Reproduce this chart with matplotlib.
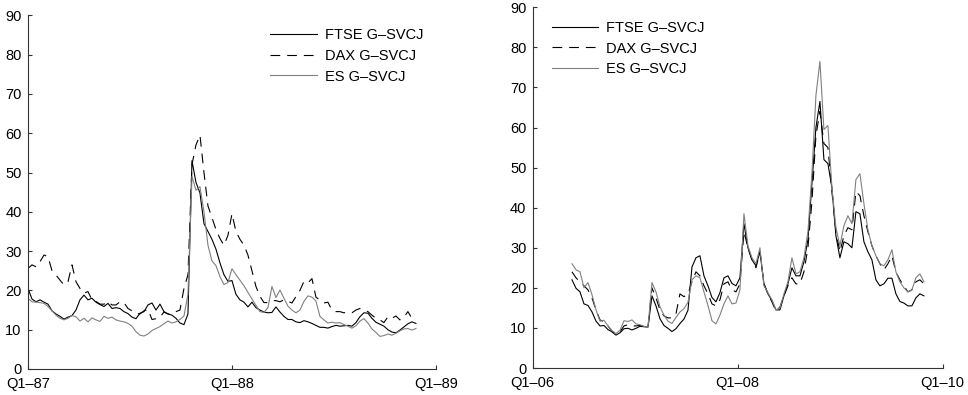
import matplotlib
matplotlib.use('Agg')
import matplotlib.pyplot as plt
import pandas as pd

plt.rcParams['font.family'] = ['Liberation Sans', 'DejaVu Sans']
plt.rcParams['lines.scale_dashes'] = False

series_labels = ['FTSE G\u2013SVCJ', 'DAX G\u2013SVCJ', 'ES G\u2013SVCJ']

# ---------------- Panel 1: 1987-1988 ----------------
dates_8788 = pd.date_range('1987-01-01', '1988-11-26', periods=98)
ftse_8788 = [20.5, 17.8, 17.1, 17.6, 17.0, 16.5, 14.8, 14.0, 13.4, 12.7,
             13.2, 13.6, 15.0, 17.6, 18.8, 17.6, 18.0, 17.0, 16.4, 15.9,
             16.7, 15.4, 15.6, 15.4, 14.6, 14.1, 13.2, 12.8, 14.2, 14.6,
             16.3, 16.8, 15.0, 16.5, 14.6, 14.0, 13.7, 12.9, 11.7, 11.3,
             14.0, 53.0, 47.5, 44.8, 37.0, 35.0, 33.0, 30.5, 27.0, 24.0,
             22.3, 22.5, 19.0, 17.6, 17.0, 15.8, 17.0, 15.6, 15.0, 14.5,
             14.3, 14.4, 15.8, 14.5, 13.4, 12.6, 12.6, 12.0, 11.8, 12.3,
             12.0, 11.6, 11.1, 10.6, 10.6, 10.4, 10.8, 11.1, 10.9, 11.0,
             11.1, 10.9, 11.8, 13.3, 14.3, 14.2, 12.9, 11.9, 11.4, 10.9,
             10.0, 9.4, 9.2, 9.9, 10.7, 11.5, 12.0, 11.6]
dax_8788 = [25.6, 26.5, 26.0, 27.3, 29.0, 28.6, 25.0, 23.9, 22.6, 21.4,
            22.2, 26.5, 22.2, 20.5, 19.3, 19.7, 17.6, 17.2, 16.5, 16.5,
            17.1, 16.3, 16.3, 17.1, 16.9, 15.4, 14.8, 14.2, 14.0, 14.8,
            15.2, 12.6, 12.8, 13.2, 14.5, 14.0, 14.2, 14.6, 15.0, 20.5,
            24.0, 52.0, 57.0, 59.5, 50.0, 41.5, 38.5, 35.5, 33.2, 31.5,
            34.0, 39.5, 35.0, 33.0, 31.5, 29.0, 25.0, 21.0, 18.5, 16.9,
            16.9, 17.4, 17.4, 17.1, 17.6, 17.2, 16.8, 18.4, 20.0, 22.3,
            21.9, 23.0, 18.3, 17.5, 16.8, 17.0, 15.0, 14.6, 14.6, 14.3,
            14.5, 14.3, 15.0, 15.4, 15.0, 14.6, 13.7, 12.9, 12.5, 11.8,
            13.3, 12.9, 13.5, 12.5, 13.2, 14.6, 12.9, 13.3]
es_8788 = [18.0, 17.1, 17.0, 16.9, 16.7, 15.9, 14.8, 13.7, 12.9, 12.5,
           12.9, 13.6, 13.3, 12.2, 12.9, 12.0, 13.0, 12.5, 12.1, 13.4,
           12.9, 13.2, 12.5, 12.2, 12.0, 11.6, 10.9, 9.5, 8.6, 8.4,
           8.9, 9.8, 10.3, 10.8, 11.5, 12.2, 11.7, 12.0, 12.6, 13.5,
           19.0, 49.0, 45.5, 46.4, 40.0, 31.5, 27.5, 26.3, 23.5, 21.5,
           22.0, 25.5, 24.0, 22.6, 21.2, 19.5, 17.8, 16.2, 14.6, 14.4,
           15.6, 21.0, 18.2, 20.1, 18.0, 16.0, 15.0, 14.3, 15.0, 17.2,
           18.6, 18.3, 17.3, 13.4, 12.5, 11.7, 11.9, 11.7, 11.8, 11.3,
           10.9, 10.4, 11.0, 12.2, 12.8, 11.7, 10.2, 9.3, 8.3, 8.5,
           8.9, 8.6, 9.1, 9.7, 10.2, 10.3, 9.9, 10.3]

# ---------------- Panel 2: 2006-2009 ----------------
dates_0609 = pd.date_range('2006-05-21', '2009-10-26', periods=89)
ftse_0609 = [22.0, 19.9, 19.0, 16.0, 15.6, 14.0, 11.7, 10.5, 10.6, 9.6,
             9.0, 8.2, 8.8, 9.8, 9.9, 9.5, 9.9, 10.4, 10.3, 10.2,
             18.0, 15.5, 12.3, 10.6, 9.9, 9.1, 9.8, 11.1, 12.2, 14.4,
             25.2, 27.5, 28.0, 23.0, 20.5, 17.6, 16.5, 18.8, 22.5, 23.0,
             21.1, 20.5, 22.5, 36.0, 30.0, 27.0, 25.5, 29.0, 21.0, 18.5,
             16.8, 14.5, 14.5, 18.0, 21.0, 25.0, 23.0, 23.0, 26.5, 32.0,
             46.0, 60.0, 66.5, 52.0, 51.0, 45.0, 33.0, 27.5, 31.5, 31.0,
             30.0, 39.0, 38.5, 31.5, 29.0, 27.0, 22.0, 20.5, 21.0, 22.4,
             22.4, 18.5, 16.6, 16.2, 15.5, 15.5, 17.5, 18.5, 18.0]
dax_0609 = [24.0, 22.5, 21.5, 20.5, 19.5, 17.5, 14.5, 12.0, 11.5, 10.5,
            9.2, 8.5, 9.0, 10.5, 10.8, 10.5, 10.5, 10.6, 10.4, 10.0,
            20.0, 17.5, 14.5, 13.0, 12.5, 12.5, 13.5, 18.5, 17.8, 18.5,
            21.5, 24.0, 23.0, 20.5, 18.5, 16.0, 15.5, 17.0, 21.0, 21.5,
            19.5, 19.0, 21.0, 34.0, 30.0, 27.0, 25.0, 29.0, 21.0, 18.5,
            16.5, 14.2, 15.2, 18.0, 20.5, 22.5, 21.0, 21.0, 24.0, 30.0,
            41.5, 58.0, 64.0, 56.0, 55.0, 44.0, 34.0, 29.0, 33.0, 35.0,
            34.5, 44.0, 43.0, 38.0, 34.0, 30.5, 28.0, 26.0, 24.5, 26.0,
            28.0, 24.0, 22.0, 20.5, 19.0, 19.5, 21.5, 22.0, 21.0]
es_0609 = [26.0, 24.5, 24.0, 20.0, 21.3, 18.3, 14.5, 11.7, 11.9, 10.5,
           9.3, 8.6, 9.4, 11.8, 11.6, 12.0, 11.0, 10.8, 10.4, 10.2,
           21.3, 19.0, 15.3, 13.2, 11.7, 11.1, 12.6, 14.0, 14.8, 16.4,
           22.0, 23.0, 22.5, 19.0, 15.6, 11.8, 11.0, 13.2, 16.0, 18.0,
           16.0, 16.2, 19.5, 38.5, 30.5, 27.5, 26.0, 30.0, 20.5, 18.8,
           17.0, 14.5, 15.0, 18.5, 21.5, 27.5, 23.5, 24.0, 27.5, 34.0,
           48.5, 68.0, 76.5, 59.5, 60.5, 45.0, 35.0, 30.5, 35.5, 38.0,
           36.0, 47.0, 48.5, 41.0, 34.5, 30.5, 28.0, 26.0, 25.5, 27.0,
           29.5, 24.0, 21.5, 20.0, 19.0, 19.5, 22.5, 23.5, 21.5]

yticks = [0, 10, 20, 30, 40, 50, 60, 70, 80, 90]
xt_8788 = ['1987-01-01', '1988-01-01', '1989-01-01']
xl_8788 = ['Q1\u201387', 'Q1\u201388', 'Q1\u201389']
xt_0609 = ['2006-01-01', '2008-01-01', '2010-01-01']
xl_0609 = ['Q1\u201306', 'Q1\u201308', 'Q1\u201310']

W, H = 968, 395
fig = plt.figure(figsize=(W / 100, H / 100), dpi=100)
ax1 = fig.add_axes([28 / W, 1 - 369 / H, 408 / W, (369 - 15.3) / H])
ax2 = fig.add_axes([532.7 / W, 1 - 368 / H, 410 / W, (368 - 7.3) / H])

axis_col = '#333333'
FS = 10.5


def draw(ax, dates, ftse, dax, es, xt, xl, leg_anchor):
    l1, = ax.plot(dates, ftse, color='black', lw=0.8)
    l2, = ax.plot(dates, dax, color='black', lw=0.8, linestyle=(0, (7, 5)))
    l3, = ax.plot(dates, es, color='#808080', lw=0.8)
    ax.set_xlim(pd.Timestamp(xt[0]), pd.Timestamp(xt[-1]))
    ax.set_ylim(0, 90)
    ax.set_yticks(yticks)
    ax.set_xticks([pd.Timestamp(t) for t in xt])
    ax.set_xticklabels(xl)
    for s in ['top', 'right']:
        ax.spines[s].set_visible(False)
    for s in ['left', 'bottom']:
        ax.spines[s].set_color(axis_col)
        ax.spines[s].set_linewidth(0.8)
    ax.tick_params(direction='in', length=3, width=0.8, color=axis_col,
                   labelsize=FS, labelcolor='black')
    ax.tick_params(axis='y', pad=4.5)
    ax.tick_params(axis='x', pad=6)
    ax.legend([l1, l2, l3], series_labels, frameon=False, loc='upper left',
              bbox_to_anchor=leg_anchor, borderpad=0, borderaxespad=0,
              handlelength=3.2, handletextpad=0.55, labelspacing=0.45,
              fontsize=FS)


draw(ax1, dates_8788, ftse_8788, dax_8788, es_8788, xt_8788, xl_8788,
     (0.593, 0.963))
draw(ax2, dates_0609, ftse_0609, dax_0609, es_0609, xt_0609, xl_0609,
     (0.046, 0.962))

fig.savefig('out.png', dpi=100)
